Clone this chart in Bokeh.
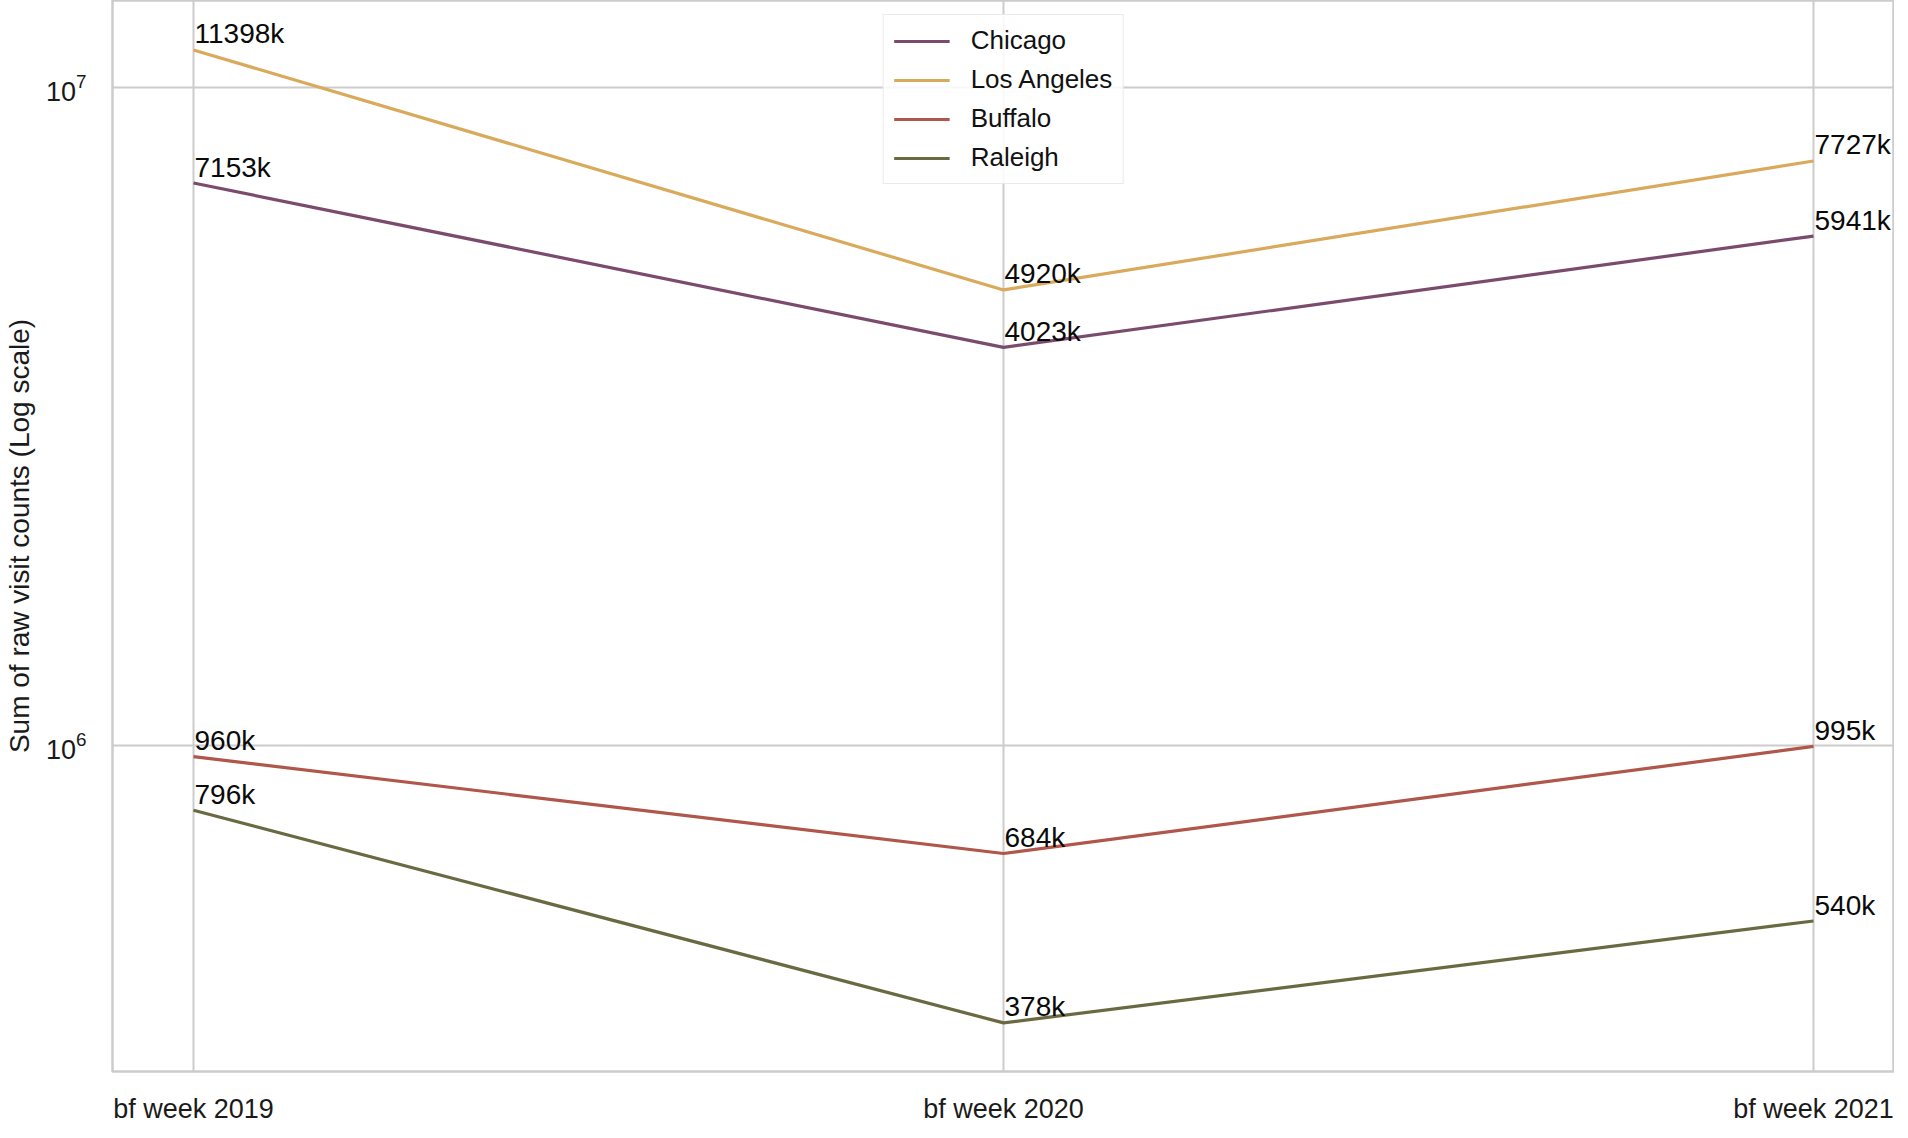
from bokeh.plotting import figure
from bokeh.models import (ColumnDataSource, Range1d, FixedTicker, LogTickFormatter,
                          Legend, LegendItem)
from bokeh.core.properties import value
from bokeh.embed import file_html
from bokeh.resources import INLINE

periods = ["bf week 2019", "bf week 2020", "bf week 2021"]
cities = ["Chicago", "Los Angeles", "Buffalo", "Raleigh"]
chicago = [7153e3, 4023e3, 5941e3]
los_angeles = [11398e3, 4920e3, 7727e3]
buffalo = [960e3, 684e3, 995e3]
raleigh = [796e3, 378e3, 540e3]
colors = ["#7b4b6d", "#d9a95c", "#b0564a", "#6b6942"]

FONT = "Liberation Sans"

p = figure(frame_width=1782, frame_height=1071, y_axis_type="log",
           x_range=Range1d(-0.1, 2.1), y_range=Range1d(10 ** 5.5036, 10 ** 7.132),
           output_backend="svg", toolbar_location=None, title=None,
           min_border_left=110, min_border_right=0, min_border_top=0,
           min_border_bottom=40)
p.background_fill_color = "white"
p.outline_line_color = "#cccccc"
p.outline_line_width = 2.5

items = []
for name, vals, col in zip(cities, [chicago, los_angeles, buffalo, raleigh], colors):
    src = ColumnDataSource(dict(x=list(range(len(periods))), y=vals,
                                lbl=["%dk" % round(v / 1000) for v in vals]))
    r = p.line("x", "y", source=src, line_color=col, line_width=3.2)
    p.text("x", "y", text="lbl", source=src, text_font=value(FONT),
           text_font_size="28px", text_color="#0a0a0a", text_align="left",
           text_baseline="alphabetic", x_offset=1, y_offset=-16)
    items.append(LegendItem(label=name, renderers=[r]))

legend = Legend(items=items, location="top_center", margin=14,
                label_text_font=FONT, label_text_font_size="26px",
                label_text_color="#111111", glyph_width=56, glyph_height=30,
                label_height=30, label_standoff=21, spacing=8, padding=10,
                border_line_color="#d6d6d6", border_line_width=1.5,
                background_fill_alpha=0.85)
p.add_layout(legend, "center")

p.xaxis.ticker = FixedTicker(ticks=list(range(len(periods))))
p.xaxis.major_label_overrides = {i: t for i, t in enumerate(periods)}
p.yaxis.ticker = FixedTicker(ticks=[1e6, 1e7])
p.yaxis.formatter = LogTickFormatter()
p.yaxis.axis_label = "Sum of raw visit counts (Log scale)"

for ax in (p.xaxis, p.yaxis):
    ax.axis_line_color = None
    ax.major_tick_line_color = None
    ax.minor_tick_line_color = None
    ax.major_label_text_font = FONT
    ax.major_label_text_color = "#1a1a1a"
    ax.axis_label_text_font = FONT
    ax.axis_label_text_font_style = "normal"
    ax.axis_label_text_color = "#1a1a1a"
    ax.axis_label_text_font_size = "28px"
p.xaxis.major_label_text_font_size = "27px"
p.xaxis.major_label_standoff = 16
p.yaxis.major_label_text_font_size = "27px"
p.yaxis.major_label_standoff = 20
p.yaxis.axis_label_standoff = 8

p.grid.grid_line_color = "#cccccc"
p.grid.grid_line_width = 2

open("out.html", "w").write(file_html(p, INLINE))
